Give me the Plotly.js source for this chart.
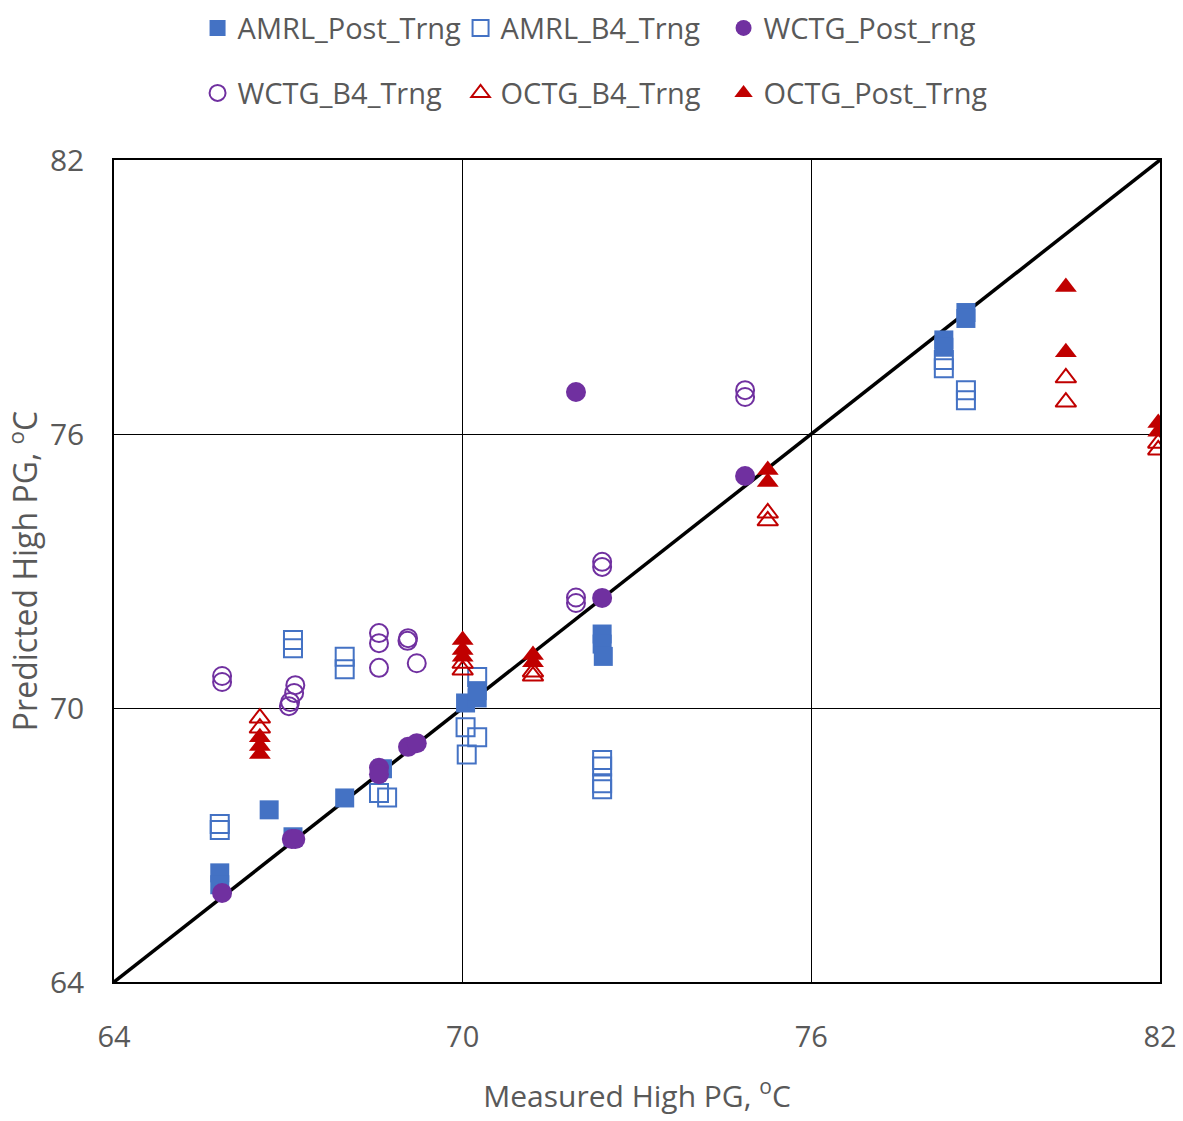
<!DOCTYPE html>
<html>
<head>
<meta charset="utf-8">
<script src="https://cdn.plot.ly/plotly-3.0.1.min.js"></script>
<style>html,body{margin:0;padding:0;background:#fff;}#chart{width:1183px;height:1121px;}</style>
</head>
<body>
<div id="chart"></div>
<script>
// AMRL_Post_Trng
const amrlPostX = [65.82, 65.82, 66.67, 67.08, 67.97, 68.62, 70.05, 70.25, 70.25, 72.40, 72.40, 72.42, 78.28, 78.28, 78.66, 78.66];
const amrlPostY = [66.39, 66.13, 67.77, 67.18, 68.03, 68.67, 70.11, 70.22, 70.38, 71.62, 71.40, 71.13, 78.06, 77.90, 78.66, 78.53];
// AMRL_B4_Trng
const amrlB4X = [65.82, 65.82, 67.08, 67.08, 67.97, 67.97, 68.56, 68.70, 70.05, 70.25, 70.07, 70.25, 72.40, 72.40, 72.40, 72.40, 78.28, 78.28, 78.66, 78.66];
const amrlB4Y = [67.46, 67.33, 71.49, 71.31, 71.12, 70.85, 68.14, 68.04, 69.58, 69.36, 68.98, 70.68, 68.86, 68.72, 68.22, 68.35, 77.62, 77.44, 76.96, 76.74];
// WCTG_Post_rng
const wctgPostX = [65.86, 67.06, 67.12, 68.56, 68.56, 69.06, 69.21, 71.95, 72.40, 74.86];
const wctgPostY = [65.95, 67.13, 67.13, 68.69, 68.55, 69.15, 69.23, 76.92, 72.41, 75.08];
// WCTG_B4_Trng
const wctgB4X = [65.86, 65.86, 67.12, 67.10, 67.03, 67.01, 68.56, 68.56, 68.56, 69.06, 69.05, 69.21, 71.95, 71.95, 72.40, 72.40, 74.86, 74.86];
const wctgB4Y = [70.70, 70.57, 70.50, 70.33, 70.13, 70.04, 71.64, 71.42, 70.88, 71.53, 71.47, 70.98, 72.42, 72.30, 73.20, 73.09, 76.96, 76.81];
// OCTG_B4_Trng
const octgB4X = [66.51, 66.51, 70.00, 70.00, 71.21, 71.21, 75.25, 75.25, 80.38, 80.38, 81.97, 81.97];
const octgB4Y = [69.78, 69.56, 70.98, 70.83, 70.79, 70.70, 74.27, 74.10, 77.23, 76.70, 75.80, 75.65];
// OCTG_Post_Trng
const octgPostX = [66.51, 66.51, 66.51, 70.00, 70.00, 70.00, 71.21, 71.21, 75.25, 75.25, 80.38, 80.38, 81.97, 81.97];
const octgPostY = [69.36, 69.17, 68.99, 71.49, 71.27, 71.12, 71.16, 71.00, 75.21, 74.95, 79.22, 77.79, 76.24, 76.05];
// Line of equality
const lineX = [64, 82];
const lineY = [64, 82];
const tickVals = [64, 70, 76, 82];

const blue = '#4472C4', purple = '#7030A0', red = '#C00000';
const legFont = {family: 'Open Sans, sans-serif', size: 29, color: '#595959'};

const traces = [
  {x: lineX, y: lineY, mode: 'lines', line: {color: '#000', width: 3.5}, showlegend: false, hoverinfo: 'skip'},
  {name: 'AMRL_Post_Trng', x: amrlPostX, y: amrlPostY, mode: 'markers', type: 'scatter',
   marker: {symbol: 'square', size: 19, color: blue}, legend: 'legend'},
  {name: 'AMRL_B4_Trng', x: amrlB4X, y: amrlB4Y, mode: 'markers', type: 'scatter',
   marker: {symbol: 'square-open', size: 18, color: blue, line: {width: 2, color: blue}}, legend: 'legend'},
  {name: 'WCTG_Post_rng', x: wctgPostX, y: wctgPostY, mode: 'markers', type: 'scatter',
   marker: {symbol: 'circle', size: 20, color: purple}, legend: 'legend'},
  {name: 'WCTG_B4_Trng', x: wctgB4X, y: wctgB4Y, mode: 'markers', type: 'scatter',
   marker: {symbol: 'circle-open', size: 18, color: purple, line: {width: 2, color: purple}}, legend: 'legend2'},
  {name: 'OCTG_B4_Trng', x: octgB4X, y: octgB4Y, mode: 'markers', type: 'scatter',
   marker: {symbol: 'triangle-up-open', size: 18, color: red, line: {width: 2, color: red}}, legend: 'legend2'},
  {name: 'OCTG_Post_Trng', x: octgPostX, y: octgPostY, mode: 'markers', type: 'scatter',
   marker: {symbol: 'triangle-up', size: 19, color: red}, legend: 'legend2'}
];

const layout = {
  width: 1183, height: 1121,
  margin: {l: 114, r: 23, t: 160, b: 139},
  paper_bgcolor: '#fff', plot_bgcolor: '#fff',
  showlegend: true,
  xaxis: {
    range: [64, 82], tickvals: tickVals, ticktext: tickVals.map(String),
    showgrid: true, gridcolor: '#000', gridwidth: 1,
    showline: true, linecolor: '#000', linewidth: 1.5, mirror: true,
    zeroline: false, ticks: '', ticklabelstandoff: 28,
    tickfont: {family: 'Open Sans, sans-serif', size: 29, color: '#595959'},
    title: {text: 'Measured High PG, <sup>o</sup>C', standoff: 32,
            font: {family: 'Open Sans, sans-serif', size: 30, color: '#595959'}}
  },
  yaxis: {
    range: [64, 82], tickvals: tickVals, ticktext: tickVals.map(String),
    showgrid: true, gridcolor: '#000', gridwidth: 1,
    showline: true, linecolor: '#000', linewidth: 1.5, mirror: true,
    zeroline: false, ticks: '', ticklabelstandoff: 22,
    tickfont: {family: 'Open Sans, sans-serif', size: 30, color: '#595959'},
    title: {text: 'Predicted High PG, <sup>o</sup>C', standoff: 8,
            font: {family: 'Open Sans, sans-serif', size: 32, color: '#595959'}}
  },
  legend: {orientation: 'h', xref: 'container', yref: 'container', x: 0.167, xanchor: 'left', y: 0.975, yanchor: 'middle',
           entrywidth: 218, entrywidthmode: 'pixels', font: legFont, bgcolor: 'rgba(0,0,0,0)'},
  legend2: {orientation: 'h', xref: 'container', yref: 'container', x: 0.167, xanchor: 'left', y: 0.917, yanchor: 'middle',
           entrywidth: 218, entrywidthmode: 'pixels', font: legFont, bgcolor: 'rgba(0,0,0,0)'}
};

Plotly.newPlot('chart', traces, layout, {displayModeBar: false, responsive: false});
</script>
</body>
</html>
